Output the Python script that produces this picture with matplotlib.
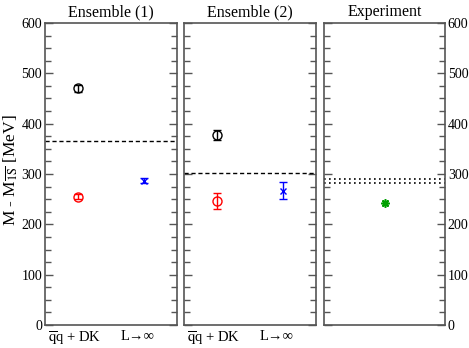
import matplotlib
matplotlib.use("Agg")
import matplotlib.pyplot as plt
from matplotlib.ticker import MultipleLocator
from matplotlib.transforms import blended_transform_factory

plt.rcParams['font.family'] = ['Liberation Serif', 'DejaVu Serif']
plt.rcParams['mathtext.fontset'] = 'stix'

# Data
titles = ["Ensemble (1)", "Ensemble (2)", "Experiment"]
xlabels = [r"$\overline{\rm q}$q + DK", "L\u2192\u221e"]
xlabel_pos = [0.9, 2.8]

ens1_qqdk_black = (470, 7)
ens1_qqdk_red = (255, 5)
ens1_linf_blue = (287, 5)
ens1_dashed = 366

ens2_qqdk_black = (378, 10)
ens2_qqdk_red = (246, 16)
ens2_linf_blue = (267, 17)
ens2_dashed = 302

exp_point = 242
exp_band = [282, 291]

W, H = 469, 348
fig = plt.figure(figsize=(W/100, H/100), dpi=100)

def px_axes(l, r, t, b):
    return fig.add_axes([l/W, 1 - b/H, (r-l)/W, (b-t)/H])

ax1 = px_axes(45, 177, 23, 325)
ax2 = px_axes(184, 316, 23, 325)
ax3 = px_axes(324, 445, 23, 325)
axes = [ax1, ax2, ax3]

spine_col = '#555555'
for ax, t in zip(axes, titles):
    ax.set_ylim(0, 600)
    ax.set_xlim(0, 4)
    ax.set_xticks([])
    ax.yaxis.set_major_locator(MultipleLocator(100))
    ax.yaxis.set_minor_locator(MultipleLocator(25))
    ax.tick_params(axis='y', which='both', direction='in', left=True, right=True,
                   labelleft=False, labelright=False, color=spine_col, labelsize=10, pad=2)
    ax.tick_params(axis='y', which='major', length=6, width=1)
    ax.tick_params(axis='y', which='minor', length=4, width=1)
    for s in ax.spines.values():
        s.set_color(spine_col)
        s.set_linewidth(1.2)
    ax.set_title(t, fontsize=11.5, pad=5)

ax1.tick_params(axis='y', labelleft=True)
ax3.tick_params(axis='y', labelright=True)

for ax in (ax1, ax2):
    tr = blended_transform_factory(ax.transData, fig.transFigure)
    for xp, lab in zip(xlabel_pos, xlabels):
        ax.text(xp, 1 - 330/H, lab, transform=tr, ha='center', va='top',
                fontsize=10.5)

def pts(ax, black, red, blue, dash):
    ax.axhline(dash, color='black', ls=(0, (3, 2)), lw=1)
    ax.errorbar([1], [black[0]], yerr=[black[1]], fmt='o', mfc='none', mec='black',
                ecolor='black', ms=6.5, capsize=3, elinewidth=1, mew=1)
    ax.errorbar([1], [red[0]], yerr=[red[1]], fmt='o', mfc='none', mec='red',
                ecolor='red', ms=6.5, capsize=3, elinewidth=1, mew=1)
    ax.errorbar([3], [blue[0]], yerr=[blue[1]], fmt='x', mec='blue', color='blue',
                ecolor='blue', ms=4, capsize=3, elinewidth=1, mew=1)

pts(ax1, ens1_qqdk_black, ens1_qqdk_red, ens1_linf_blue, ens1_dashed)
pts(ax2, ens2_qqdk_black, ens2_qqdk_red, ens2_linf_blue, ens2_dashed)

for v in exp_band:
    ax3.axhline(v, color='black', ls=(0, (1, 2)), lw=1.2)
ax3.plot([2], [exp_point], marker=(8, 2, 0), color='#00a000', ms=6, mew=1.2, ls='none')

fig.text(10/W, 1 - 170/H, r"M - M$_{\overline{\rm 1S}}$ [MeV]", rotation=90,
         ha='center', va='center', fontsize=12.5)

fig.savefig("out.png", dpi=100)
